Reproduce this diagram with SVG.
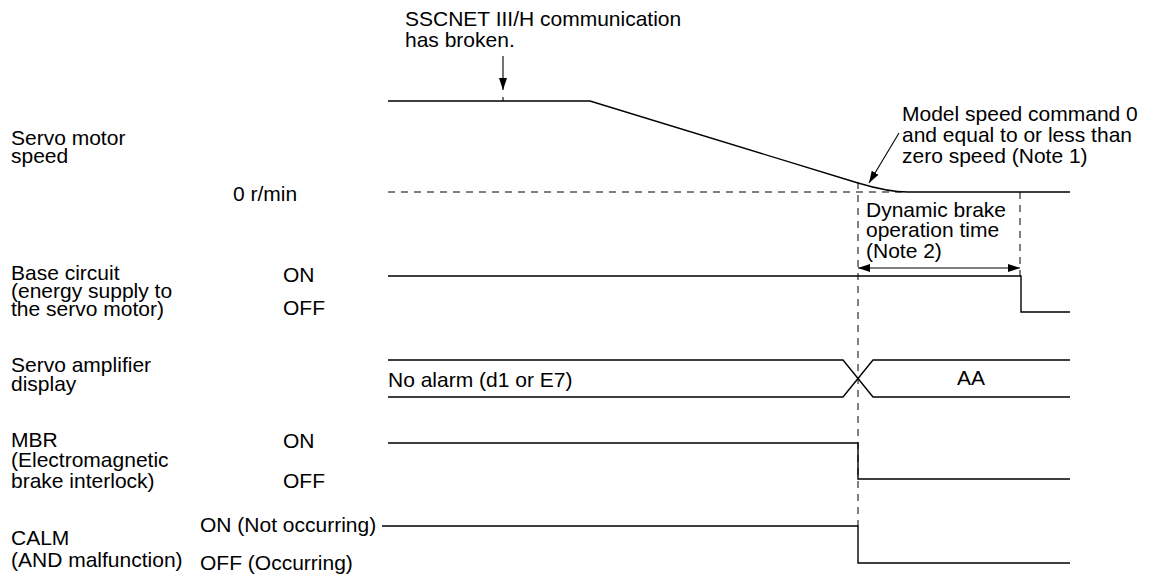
<svg xmlns="http://www.w3.org/2000/svg" width="1156" height="577" viewBox="0 0 1156 577">
  <style>
    text { font-family: "Liberation Sans", Arial, sans-serif; font-size: 21px; fill: #000; }
    .sig { fill: none; stroke: #000; stroke-width: 1.4; }
    .dash { fill: none; stroke: #000; stroke-width: 1; stroke-dasharray: 7 6; }
    .thin { fill: none; stroke: #000; stroke-width: 1.1; }
    .mid { text-anchor: middle; }
  </style>
  <defs>
    <marker id="ah" viewBox="0 0 12 8" refX="12" refY="4" markerWidth="12" markerHeight="8" markerUnits="userSpaceOnUse" orient="auto-start-reverse">
      <path d="M0,0 L12,4 L0,8 Z" fill="#000"/>
    </marker>
  </defs>
  <rect width="1156" height="577" fill="#fff"/>

  <g id="event">
    <text x="405" y="26">SSCNET III/H communication</text>
    <text x="405" y="47">has broken.</text>
    <line class="thin" x1="503" y1="56" x2="503" y2="90" marker-end="url(#ah)"/>
    <line class="thin" x1="503" y1="97" x2="503" y2="101"/>
  </g>

  <g id="speed">
    <text x="11" y="145">Servo motor</text>
    <text x="11" y="163">speed</text>
    <text x="233" y="201">0 r/min</text>
    <line class="dash" x1="388" y1="192" x2="906" y2="192"/>
    <path class="sig" d="M388,101 L590,101 L858,183 Q888,192 908,192 L1070,192"/>
    <text x="902" y="121">Model speed command 0</text>
    <text x="902" y="142">and equal to or less than</text>
    <text x="902" y="163">zero speed (Note 1)</text>
    <line class="thin" x1="899" y1="133" x2="869" y2="183" marker-end="url(#ah)"/>
  </g>

  <g id="brake-time">
    <text x="866" y="217">Dynamic brake</text>
    <text x="866" y="237">operation time</text>
    <text x="866" y="258">(Note 2)</text>
    <line class="dash" x1="1020" y1="192" x2="1020" y2="276"/>
    <line class="thin" x1="858" y1="268" x2="1020" y2="268" marker-start="url(#ah)" marker-end="url(#ah)"/>
  </g>

  <g id="base-circuit">
    <text x="11" y="280">Base circuit</text>
    <text x="11" y="298">(energy supply to</text>
    <text x="11" y="316">the servo motor)</text>
    <text x="283" y="282">ON</text>
    <text x="283" y="315">OFF</text>
    <path class="sig" d="M388,276 L1021,276 L1021,312 L1070,312"/>
  </g>

  <g id="display">
    <text x="11" y="372">Servo amplifier</text>
    <text x="11" y="391">display</text>
    <path class="sig" d="M388,360 L843,360 L873,397 L1070,397"/>
    <path class="sig" d="M388,397 L843,397 L873,360 L1070,360"/>
    <text x="388" y="387">No alarm (d1 or E7)</text>
    <text class="mid" x="971" y="385">AA</text>
  </g>

  <g id="mbr">
    <text x="11" y="447">MBR</text>
    <text x="11" y="467">(Electromagnetic</text>
    <text x="11" y="488">brake interlock)</text>
    <text x="283" y="448">ON</text>
    <text x="283" y="488">OFF</text>
    <path class="sig" d="M388,443 L858,443 L858,479 L1070,479"/>
  </g>

  <g id="calm">
    <text x="11" y="545">CALM</text>
    <text x="11" y="567">(AND malfunction)</text>
    <text x="200" y="532">ON (Not occurring)</text>
    <text x="200" y="570">OFF (Occurring)</text>
    <path class="sig" d="M382,526 L858,526 L858,563 L1070,563"/>
  </g>

  <g id="connectors">
    <line class="dash" x1="858" y1="182" x2="858" y2="526"/>
  </g>
</svg>
